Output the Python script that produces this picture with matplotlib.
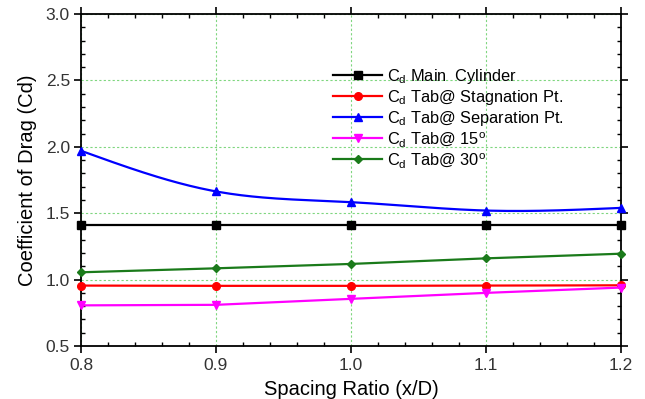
import numpy as np
import matplotlib
matplotlib.use("Agg")
import matplotlib.pyplot as plt
from matplotlib.ticker import MultipleLocator

plt.rcParams['font.family'] = ['Liberation Sans', 'DejaVu Sans']
plt.rcParams['mathtext.fontset'] = 'custom'
plt.rcParams['mathtext.rm'] = 'Liberation Sans'

spacing = [0.8, 0.9, 1.0, 1.1, 1.2]
cd_main = [1.41, 1.41, 1.41, 1.41, 1.41]
cd_stag = [0.955, 0.953, 0.953, 0.955, 0.957]
cd_sep = [1.97, 1.664, 1.583, 1.52, 1.54]
cd_15 = [0.806, 0.81, 0.855, 0.90, 0.94]
cd_30 = [1.055, 1.085, 1.118, 1.16, 1.195]

labels = [r"C$_\mathregular{d}$ Main  Cylinder",
          r"C$_\mathregular{d}$ Tab@ Stagnation Pt.",
          r"C$_\mathregular{d}$ Tab@ Separation Pt.",
          r"C$_\mathregular{d}$ Tab@ 15$^\mathregular{o}$",
          r"C$_\mathregular{d}$ Tab@ 30$^\mathregular{o}$"]


def natural_spline(x, y, n=200):
    x = np.asarray(x, float); y = np.asarray(y, float)
    k = len(x)
    h = np.diff(x)
    A = np.zeros((k, k)); b = np.zeros(k)
    A[0, 0] = 1; A[-1, -1] = 1
    for i in range(1, k - 1):
        A[i, i - 1] = h[i - 1]
        A[i, i] = 2 * (h[i - 1] + h[i])
        A[i, i + 1] = h[i]
        b[i] = 3 * ((y[i + 1] - y[i]) / h[i] - (y[i] - y[i - 1]) / h[i - 1])
    c = np.linalg.solve(A, b)
    xs = np.linspace(x[0], x[-1], n)
    ys = np.empty_like(xs)
    for j, xv in enumerate(xs):
        i = min(np.searchsorted(x, xv, side='right') - 1, k - 2)
        dx = xv - x[i]
        bb = (y[i + 1] - y[i]) / h[i] - h[i] * (c[i + 1] + 2 * c[i]) / 3
        d = (c[i + 1] - c[i]) / (3 * h[i])
        ys[j] = y[i] + bb * dx + c[i] * dx ** 2 + d * dx ** 3
    return xs, ys


fig = plt.figure(figsize=(6.45, 3.99), dpi=100)
ax = fig.add_axes([81 / 645, 1 - 346 / 399, 540 / 645, 332 / 399])

lw = 1.6
ms = 5.5
ax.plot(spacing, cd_main, color='black', marker='s', lw=lw, ms=ms, label=labels[0], clip_on=False, zorder=3)
ax.plot(spacing, cd_stag, color='red', marker='o', lw=lw, ms=ms, label=labels[1], clip_on=False, zorder=3)
xs, ys = natural_spline(spacing, cd_sep)
ax.plot(xs, ys, color='blue', lw=lw, clip_on=False, zorder=3)
ax.plot(spacing, cd_sep, color='blue', marker='^', lw=0, ms=ms, clip_on=False, zorder=3)
ax.plot([], [], color='blue', marker='^', lw=lw, ms=ms, label=labels[2])
ax.plot(spacing, cd_15, color='magenta', marker='v', lw=lw, ms=ms, label=labels[3], clip_on=False, zorder=3)
ax.plot(spacing, cd_30, color='#1a7a1a', marker='D', lw=lw, ms=ms - 1, label=labels[4], clip_on=False, zorder=3)

ax.set_xlim(0.8, 1.2)
ax.set_ylim(0.5, 3.0)
ax.xaxis.set_minor_locator(MultipleLocator(0.02))
ax.yaxis.set_minor_locator(MultipleLocator(0.1))
ax.set_xticks([0.8, 0.9, 1.0, 1.1, 1.2])
ax.set_xticklabels(['0.8', '0.9', '1.0', '1.1', '1.2'])
ax.set_yticks([0.5, 1.0, 1.5, 2.0, 2.5, 3.0])
ax.set_yticklabels(['0.5', '1.0', '1.5', '2.0', '2.5', '3.0'])

ax.tick_params(which='major', direction='out', length=5, width=1.2, labelsize=12.5,
               top=True, right=True, colors='black', labelcolor='#333333')
ax.tick_params(which='minor', direction='in', length=3, width=1.0, top=True, right=True)
ax.tick_params(axis='x', which='major', pad=4)
ax.tick_params(axis='y', which='major', pad=3)
for s in ax.spines.values():
    s.set_linewidth(1.3)

ax.grid(True, which='major', color='#7fd67f', linestyle=(0, (2, 2)), lw=0.8)
ax.set_axisbelow(True)

ax.set_xlabel('Spacing Ratio (x/D)', fontsize=14.5, labelpad=5)
ax.set_ylabel('Coefficient of Drag (Cd)', fontsize=14.5, labelpad=6)

leg = ax.legend(loc='upper left', bbox_to_anchor=(0.455, 0.86), frameon=False,
                fontsize=11.8, handlelength=3.0, handletextpad=0.3, labelspacing=0.12,
                borderaxespad=0)

fig.savefig('out.png', dpi=100)
